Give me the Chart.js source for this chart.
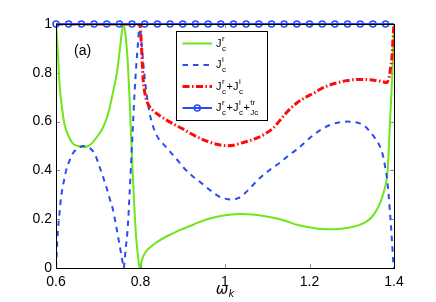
<!DOCTYPE html>
<html>
<head>
<meta charset="utf-8">
<script src="https://cdn.jsdelivr.net/npm/chart.js@4/dist/chart.umd.min.js"></script>
<style>
  html, body { margin: 0; padding: 0; background: #ffffff; }
  #wrap { width: 436px; height: 302px; position: relative; }
</style>
</head>
<body>
<div id="wrap"><canvas id="c" width="436" height="302"></canvas></div>
<script>
// ---- data ----
const xTicks = [0.6, 0.8, 1.0, 1.2, 1.4];
const yTicks = [0, 0.2, 0.4, 0.6, 0.8, 1];

const jrOmega = [0.600,0.604,0.608,0.614,0.620,0.630,0.640,0.652,0.664,0.676,0.687,0.700,0.711,0.723,0.735,0.745,0.750,0.754,0.757,0.760,0.763,0.766,0.770,0.774,0.778,0.782,0.786,0.790,0.794,0.798,0.803,0.810,0.823,0.838,0.857,0.877,0.897,0.917,0.936,0.956,0.976,0.996,1.015,1.035,1.055,1.075,1.095,1.114,1.134,1.152,1.169,1.189,1.209,1.230,1.260,1.280,1.303,1.320,1.335,1.348,1.359,1.368,1.375,1.380,1.385,1.390,1.394,1.397,1.400];
const jrValue = [1.00,0.90,0.76,0.66,0.59,0.54,0.51,0.50,0.495,0.50,0.515,0.545,0.575,0.63,0.72,0.81,0.88,0.94,0.98,0.995,0.975,0.93,0.84,0.70,0.53,0.37,0.23,0.12,0.05,0.00,0.03,0.06,0.085,0.105,0.125,0.142,0.158,0.172,0.186,0.199,0.208,0.215,0.219,0.221,0.220,0.217,0.212,0.206,0.198,0.188,0.178,0.170,0.164,0.160,0.159,0.162,0.169,0.178,0.190,0.210,0.238,0.270,0.306,0.340,0.400,0.580,0.720,0.840,1.00];

const jiOmega = [0.600,0.602,0.604,0.608,0.612,0.618,0.624,0.632,0.640,0.652,0.664,0.676,0.687,0.695,0.703,0.711,0.719,0.727,0.735,0.741,0.747,0.753,0.758,0.760,0.765,0.770,0.774,0.778,0.782,0.786,0.790,0.794,0.798,0.802,0.806,0.810,0.814,0.818,0.822,0.828,0.834,0.843,0.853,0.865,0.877,0.889,0.900,0.920,0.940,0.964,0.987,1.007,1.020,1.031,1.045,1.059,1.082,1.106,1.130,1.153,1.169,1.189,1.209,1.228,1.248,1.268,1.288,1.305,1.319,1.332,1.343,1.356,1.367,1.374,1.379,1.384,1.387,1.390,1.393,1.396,1.398,1.400];
const jiValue = [0.00,0.07,0.14,0.22,0.29,0.35,0.40,0.44,0.47,0.49,0.50,0.495,0.48,0.455,0.415,0.375,0.333,0.285,0.238,0.185,0.128,0.07,0.02,0.00,0.08,0.17,0.30,0.44,0.58,0.72,0.83,0.92,1.00,0.93,0.85,0.78,0.72,0.67,0.63,0.59,0.56,0.53,0.51,0.487,0.463,0.439,0.415,0.381,0.354,0.320,0.292,0.282,0.281,0.286,0.303,0.327,0.368,0.402,0.432,0.465,0.484,0.515,0.545,0.568,0.586,0.596,0.600,0.598,0.593,0.580,0.559,0.530,0.497,0.460,0.415,0.360,0.306,0.240,0.169,0.090,0.033,0.00];

const sumOmega = [0.600,0.700,0.7985,0.802,0.806,0.810,0.814,0.820,0.830,0.845,0.861,0.880,0.900,0.920,0.940,0.960,0.980,1.007,1.020,1.035,1.055,1.075,1.095,1.114,1.130,1.150,1.169,1.189,1.209,1.228,1.248,1.268,1.288,1.307,1.327,1.343,1.359,1.372,1.383,1.388,1.392,1.395,1.398,1.400];
const sumValue = [1.00,1.00,1.00,0.92,0.78,0.72,0.689,0.665,0.645,0.625,0.607,0.588,0.570,0.550,0.532,0.518,0.507,0.501,0.503,0.510,0.520,0.532,0.550,0.573,0.605,0.645,0.675,0.698,0.716,0.735,0.750,0.760,0.768,0.772,0.773,0.772,0.768,0.764,0.760,0.780,0.820,0.860,0.950,1.00];

const totOmega = [0.60,0.63,0.66,0.69,0.72,0.75,0.78,0.81,0.84,0.87,0.90,0.93,0.96,0.99,1.02,1.05,1.08,1.11,1.14,1.17,1.20,1.23,1.26,1.29,1.32,1.35,1.38,1.40];
const totValue = [1,1,1,1,1,1,1,1,1,1,1,1,1,1,1,1,1,1,1,1,1,1,1,1,1,1,1,1];
const totMarkerCount = 27; // markers on the first 27 samples

const legendLabels = [
  [['J','r','c']],
  [['J','i','c']],
  [['J','r','c'],'+',['J','i','c']],
  [['J','r','c'],'+',['J','i','c'],'+',['','tr','Jc']]
];
const panelLabel = '(a)';
const xTitle = ['ω', 'k'];

// ---- colours / styles ----
const GREEN = '#6ee51c';
const BLUE = '#2a4cf5';
const RED = '#ff0a0a';
const RED_DASH = [7, 2.5, 1.5, 2.5];
const BLUE_DASH = [5.5, 5];

const toXY = (xs, ys) => xs.map((x, i) => ({ x: x, y: ys[i] }));

const framePlugin = {
  id: 'frame',
  beforeDatasetsDraw(chart) {
    const { ctx, chartArea: a, scales } = chart;
    ctx.save();
    ctx.strokeStyle = '#8a8a8a';
    ctx.lineWidth = 1;
    const tl = 4;
    xTicks.forEach(v => {
      const px = Math.round(scales.x.getPixelForValue(v)) + 0.5;
      ctx.beginPath();
      ctx.moveTo(px, a.bottom); ctx.lineTo(px, a.bottom - tl);
      ctx.moveTo(px, a.top); ctx.lineTo(px, a.top + tl);
      ctx.stroke();
    });
    yTicks.forEach(v => {
      const py = Math.round(scales.y.getPixelForValue(v)) + 0.5;
      ctx.beginPath();
      ctx.moveTo(a.left, py); ctx.lineTo(a.left + tl, py);
      ctx.moveTo(a.right, py); ctx.lineTo(a.right - tl, py);
      ctx.stroke();
    });
    ctx.restore();
  },
  afterDatasetsDraw(chart) {
    const { ctx, chartArea: a } = chart;
    ctx.save();
    ctx.strokeStyle = '#000000';
    ctx.lineWidth = 1;
    ctx.strokeRect(a.left + 0.5, a.top + 0.5, a.right - a.left, a.bottom - a.top);
    ctx.restore();
  },
  afterDraw(chart) {
    const { ctx, chartArea: a } = chart;
    ctx.save();
    // panel label
    ctx.fillStyle = '#000';
    ctx.font = '14px "Liberation Sans", Arial, sans-serif';
    ctx.textBaseline = 'alphabetic';
    ctx.textAlign = 'left';
    ctx.fillText(panelLabel, 74, 55);

    // x axis title
    const cx = (a.left + a.right) / 2;
    ctx.font = 'italic 15px "DejaVu Sans", sans-serif';
    const wOm = ctx.measureText(xTitle[0]).width;
    ctx.font = 'italic 10px "DejaVu Sans", sans-serif';
    const wK = ctx.measureText(xTitle[1]).width;
    const x0 = cx - (wOm + wK) / 2;
    ctx.font = 'italic 15px "DejaVu Sans", sans-serif';
    ctx.fillText(xTitle[0], x0, 294);
    ctx.font = 'italic 10px "DejaVu Sans", sans-serif';
    ctx.fillText(xTitle[1], x0 + wOm, 297);

    // legend box
    const bx = 176.5, by = 31.5, bw = 91, bh = 89;
    ctx.fillStyle = '#ffffff';
    ctx.fillRect(bx, by, bw, bh);
    ctx.strokeStyle = '#000';
    ctx.lineWidth = 1;
    ctx.strokeRect(bx, by, bw, bh);

    const rowsY = [43.5, 65, 86.5, 108];
    const lx0 = 182.5, lx1 = 212;
    const styles = [
      { c: GREEN, w: 2, d: [] },
      { c: BLUE, w: 2, d: BLUE_DASH },
      { c: RED, w: 3, d: RED_DASH },
      { c: BLUE, w: 2, d: [], marker: true }
    ];
    styles.forEach((s, i) => {
      const y = rowsY[i];
      ctx.save();
      ctx.strokeStyle = s.c;
      ctx.lineWidth = s.w;
      ctx.setLineDash(s.d);
      ctx.beginPath();
      ctx.moveTo(lx0, y); ctx.lineTo(lx1, y);
      ctx.stroke();
      if (s.marker) {
        ctx.setLineDash([]);
        ctx.lineWidth = 1.5;
        ctx.beginPath();
        ctx.arc((lx0 + lx1) / 2, y, 3, 0, Math.PI * 2);
        ctx.stroke();
      }
      ctx.restore();

      // label text
      let tx = 216;
      const base = y + 3;
      ctx.fillStyle = '#000';
      legendLabels[i].forEach(part => {
        if (typeof part === 'string') {
          ctx.font = '11px "Liberation Sans", Arial, sans-serif';
          ctx.fillText(part, tx, base);
          tx += ctx.measureText(part).width;
        } else {
          const [m, sup, sub] = part;
          ctx.font = '11px "Liberation Sans", Arial, sans-serif';
          ctx.fillText(m, tx, base);
          tx += ctx.measureText(m).width + 0.5;
          ctx.font = '8px "Liberation Sans", Arial, sans-serif';
          ctx.fillText(sup, tx, base - 6);
          ctx.fillText(sub, tx, base + 4);
          tx += Math.max(ctx.measureText(sup).width, ctx.measureText(sub).width) + 0.5;
        }
      });
    });
    ctx.restore();
  }
};

new Chart(document.getElementById('c'), {
  type: 'line',
  data: {
    datasets: [
      {
        label: 'Jr',
        data: toXY(jrOmega, jrValue),
        borderColor: GREEN, borderWidth: 2, pointRadius: 0,
        cubicInterpolationMode: 'monotone', order: 4
      },
      {
        label: 'Ji',
        data: toXY(jiOmega, jiValue),
        borderColor: BLUE, borderWidth: 2, borderDash: BLUE_DASH, pointRadius: 0,
        cubicInterpolationMode: 'monotone', order: 3
      },
      {
        label: 'Jr+Ji',
        data: toXY(sumOmega, sumValue),
        borderColor: RED, borderWidth: 3, borderDash: RED_DASH, pointRadius: 0,
        cubicInterpolationMode: 'monotone', order: 2
      },
      {
        label: 'Jr+Ji+Jtr',
        data: toXY(totOmega, totValue),
        borderColor: BLUE, borderWidth: 2,
        pointRadius: ctx => (ctx.dataIndex < totMarkerCount ? 3 : 0),
        pointBorderWidth: 1.5, pointBorderColor: BLUE,
        pointBackgroundColor: 'rgba(255,255,255,0)',
        pointStyle: 'circle', clip: false, order: 1
      }
    ]
  },
  options: {
    responsive: false,
    animation: false,
    devicePixelRatio: 1,
    layout: { padding: { left: 0, top: 24, right: 42, bottom: 0 } },
    plugins: { legend: { display: false }, tooltip: { enabled: false } },
    elements: { line: { tension: 0 } },
    scales: {
      x: {
        type: 'linear', min: 0.6, max: 1.4,
        afterBuildTicks: s => { s.ticks = xTicks.map(v => ({ value: v })); },
        afterFit: s => { s.height = 34; },
        grid: { display: false, drawTicks: false },
        border: { display: false },
        ticks: {
          color: '#000', padding: 6,
          font: { family: '"Liberation Sans", Arial, sans-serif', size: 14 },
          callback: v => String(Math.round(v * 10) / 10),
          maxRotation: 0
        }
      },
      y: {
        type: 'linear', min: 0, max: 1,
        afterBuildTicks: s => { s.ticks = yTicks.map(v => ({ value: v })); },
        afterFit: s => { s.width = 56; },
        grid: { display: false, drawTicks: false },
        border: { display: false },
        ticks: {
          color: '#000', padding: 4,
          font: { family: '"Liberation Sans", Arial, sans-serif', size: 14 },
          callback: v => String(Math.round(v * 10) / 10)
        }
      }
    }
  },
  plugins: [framePlugin]
});
</script>
</body>
</html>
